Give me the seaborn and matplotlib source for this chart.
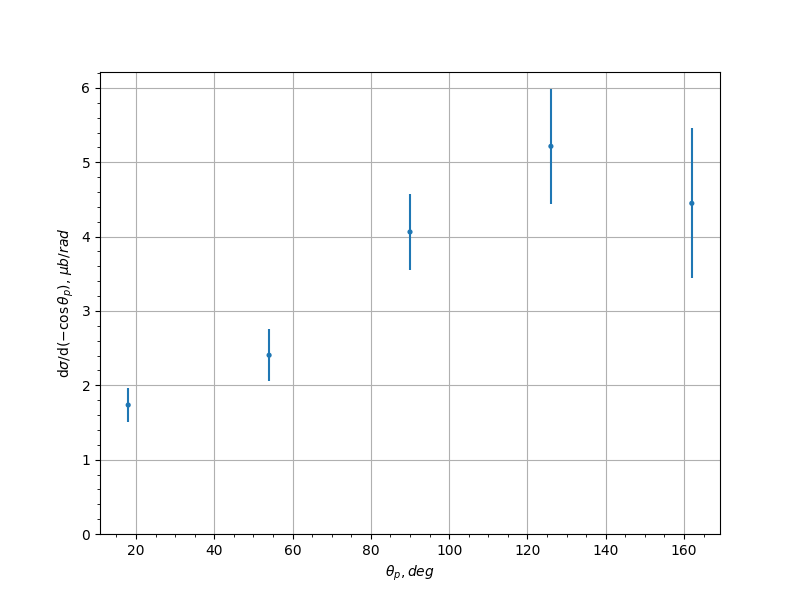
import numpy as np
import pandas as pd
import seaborn as sns
import matplotlib
matplotlib.use('Agg')
import matplotlib.pyplot as plt

# Data
theta = [18, 54, 90, 126, 162]
xsec = [1.735, 2.405, 4.063, 5.215, 4.448]
xsec_err = [0.235, 0.350, 0.510, 0.775, 1.010]

df = pd.DataFrame({'theta': theta, 'xsec': xsec, 'err': xsec_err})

fig, ax = plt.subplots(figsize=(8, 6), dpi=100)

# Error bars
ax.errorbar(df['theta'], df['xsec'], yerr=df['err'], fmt='none',
            ecolor='tab:blue', elinewidth=1.5)
# Central values
sns.scatterplot(data=df, x='theta', y='xsec', ax=ax, color='tab:blue',
                s=14, edgecolor='none', zorder=3)

ax.set_ylim(bottom=0)
ax.minorticks_on()
ax.grid(True, which='major')
ax.set_axisbelow(True)
ax.set_xlabel(r'$\theta_p, deg$')
ax.set_ylabel(r'd$\sigma$/d($-\cos\theta_p$), $\mu b/rad$')

plt.savefig('out.png', dpi=100)
